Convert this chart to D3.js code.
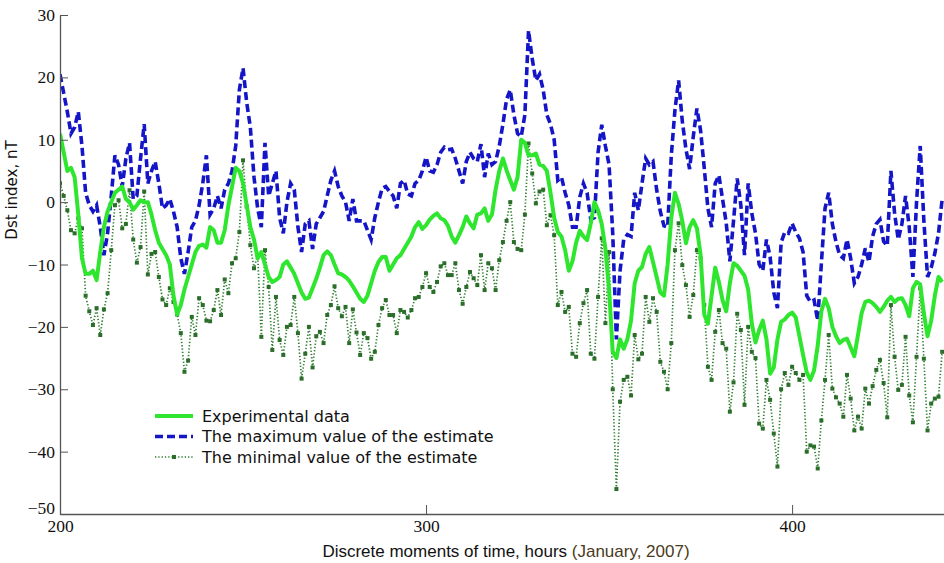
<!DOCTYPE html>
<html lang="en">
<head>
<meta charset="UTF-8">
<title>Dst index</title>
<script src="https://cdnjs.cloudflare.com/ajax/libs/d3/7.8.5/d3.min.js"></script>
<style>
    body { margin: 0; background: #fff; }
    svg { display: block; background: #fff; }
</style>
</head>
<body>
<script>

    // hourly values, t = 200 .. 441
    let startHour = 200

    let experimental = [
        11, 8, 5, 5.5, 4, -2, -9, -11.5, -11.5, -11,
        -12.5, -8, -4, -1.5, 0, 1.5, 2, 2.5, 0.5, 0,
        -1.2, -0.5, 0.3, 0, 0, -2, -4.5, -6.5, -7.5, -8.5,
        -10, -15, -18, -16.5, -14, -12, -10, -8, -7, -6.8,
        -7.3, -4, -4.5, -6.5, -6.5, -4.5, -0.5, 2.5, 5.5, 5,
        3, -0.5, -4, -6, -9, -8, -10, -12, -12.8, -12.5,
        -12, -10, -9.5, -10.5, -11.5, -13, -14.5, -15.5, -15.3, -13.8,
        -12.3, -10.5, -8.5, -7.9, -8.5, -10, -11.4, -11.6, -12, -12.6,
        -13.5, -14.5, -15.5, -16, -15, -13, -11, -9.6, -8.8, -8.8,
        -11, -10, -9, -8.5, -7.5, -6.5, -5.5, -4, -3.2, -4.3,
        -3.7, -2.8, -2.2, -1.8, -2.6, -2.9, -3.8, -5.5, -6.5, -5.3,
        -4, -2.3, -3.4, -4.2, -2, -1.8, -1, -3, -2, 2,
        5, 7, 5.1, 3.5, 2, 4, 10, 9.5, 7.5, 7.5,
        7.8, 6, 5.8, 5, 1.5, -2.5, -4.8, -5.5, -7.7, -11,
        -9.5, -6.5, -4.6, -5.5, -6.1, -3.4, 0, -1.3, -3.5, -7.5,
        -14, -24, -25, -22, -23.5, -22, -19, -13, -11, -10.4,
        -8.3, -7.2, -9.6, -12, -14.5, -15, -10, -2.5, 1.5, -0.3,
        -3, -6.6, -4, -2.9, -4.2, -8.5, -18, -19.5, -15, -10.5,
        -12.8, -15.7, -17.5, -13, -9.8, -10.2, -11, -11.8, -14, -19.5,
        -22.5, -20.5, -19, -22, -27.5, -26.5, -22, -19.2, -18.8, -18.1,
        -17.7, -18.5, -21.5, -24.5, -27.3, -28.5, -27, -23, -17.5, -15.5,
        -17, -20, -21.5, -22.6, -22.1, -21.9, -23.3, -24.7, -21.3, -17.8,
        -16, -15.8, -16.2, -16.8, -17.6, -16.8, -15.8, -15.2, -16, -15.5,
        -15.4, -16.5, -18.3, -13.8, -12.8, -13.2, -17.8, -21.5, -19, -15,
        -12, -12.8
    ]

    let estimateMax = [
        20.5, 17.5, 14.5, 11, 12, 14.5, 9, 1.5, -0.5, -1.5,
        -0.5, -4, -8.5, -5, 1, 7.5, 6, 2.5, 7, 9.5,
        0.5, 1, 7, 12.5, 3, 5, 6.5, 3, -1, -0.5,
        0.5, -1.5, -4, -9, -11.5, -8, -4, -3, -0.5, 3,
        7.5, -2, -1, 1, -1, 2, 3, 5, 9, 18,
        21.5, 16, 12, 4, -1, -4, 9.5, 1, 3, 5,
        -2.5, -5, 0, 3, 2, -4, -8, -3.5, -3, -7.5,
        -3.5, -2.5, -1.5, 1, 3.5, 5, 2.5, 1, 0, -3,
        0.5, -3, -3, -3, -4.5, -6, -2.5, 0, 2.2, 2.5,
        1.7, 1, -1, 3, 3.5, 1.3, 1, 3, 3.5, 5,
        7.2, 5, 4.8, 6, 8, 8.8, 8.4, 8.5, 7, 5,
        3, 6.5, 8, 7, 6.5, 9.3, 4, 7.8, 6, 6.5,
        9, 12.5, 16.5, 18, 14, 11, 10.5, 14, 27.5, 23,
        19.5, 20.5, 18, 14, 12.5, 10, 3.5, 4, 1.5, -0.5,
        -4, -4, 0.8, 3, 1.5, -2.8, -2.5, 8, 12.4, 9,
        6, -5, -22, -11, -6, -5.2, -5.5, 1.5, -1.3, 3,
        7, 6, 6.5, 2, -1.5, -3.8, -4, 7.5, 14.8, 19.5,
        13, 8.5, 5.3, 10.5, 15, 11.5, 5.5, -1, -4, 3,
        4.3, 0.5, -3.3, -9.5, -3, 3.8, -0.5, -8.5, 3, -1.8,
        -5, -10, -11, -6, -8.8, -14.5, -17, -6.5, -4.8, -5,
        -3.4, -4.8, -5.8, -8, -15, -16, -15.7, -19, -9.8, -1,
        1.5, -3.5, -6.4, -8.5, -9, -6, -9, -13, -12, -10,
        -7.4, -9.6, -5.5, -3.5, -2.8, -6.3, -7, 5, -1.8, -6,
        -3.5, 1, -4, -12, 0, 9, -3, -12, -10.5, -8.2,
        -5, 0.5
    ]

    let estimateMin = [
        3, 1, -1.3, -4.5, -5, -2.6, -4.2, -15, -17.5, -19.7,
        -17, -21.3, -17.2, -14.6, -7.7, -0.5, 0.3, -4.2, -3.5, 1.9,
        -6, -9.7, -7.2, 1.7, -11.6, -8.3, -8, -12, -15.6, -16.5,
        -13.8, -16, -18, -21, -27.2, -25.4, -18.4, -21.3, -15.4, -16.5,
        -19, -19.1, -17.3, -14.1, -18.1, -12.4, -14.6, -9.8, -9, -4.8,
        6.7, -0.7, -6.9, -10.6, -8.5, -21.6, -7.7, -13.6, -23.7, -15.2,
        -22.1, -24.5, -20, -19.7, -15.2, -21, -28.3, -24.3, -20, -26.5,
        -21.5, -20.8, -22.6, -18.1, -16.5, -13.5, -17, -18.3, -16.8, -22.6,
        -17.2, -20.9, -24.5, -21, -21.8, -25.1, -24, -19.7, -17, -15.7,
        -18.1, -18.1, -21, -17.3, -17.6, -18.5, -17.3, -15.4, -15.2, -13.6,
        -11.4, -13.6, -14.4, -12.8, -10.3, -9.8, -11.7, -11.7, -9.8, -14.1,
        -16.3, -13.6, -11.2, -12.2, -13.3, -8.5, -14.1, -9.8, -10.6, -14.1,
        -9.3, -6.4, -3, 0, -6.4, -7.5, -7.7, -2, 9.4, 4.6,
        -0.2, 1.7, 2, -3.7, -2.1, -5.3, -16.5, -14.4, -17.6, -16.8,
        -24.3, -24.8, -19.4, -16.2, -14.1, -24.3, -25.1, -15.2, -5.8, -19.4,
        -8, -30, -46, -32, -28.5, -28, -31, -21.3, -25.2, -24.3,
        -15.2, -19.2, -15.4, -17.6, -25.6, -27.2, -30, -22.6, -7.7, -3.4,
        -10.1, -13.3, -18.4, -14.9, -7.7, -9, -16.5, -26.4, -28.5, -20.8,
        -17.3, -22.6, -23.5, -33.6, -28.9, -17.9, -20.5, -32.5, -20, -24,
        -25, -35.5, -36.3, -28.5, -31.7, -37.1, -42.4, -30, -27.4, -29.3,
        -26.4, -27.4, -28.5, -27.7, -40, -39, -39.2, -42.7, -35, -28.5,
        -21.3, -29.9, -31.3, -32.3, -34.4, -27.7, -31.5, -36.6, -34.4, -36.3,
        -29.9, -32.3, -29.5, -26.9, -25.3, -29, -34.5, -16.5, -24.8, -30.1,
        -29.3, -21.6, -31, -35.3, -24.8, -13.8, -25.1, -36.6, -32.3, -31.5,
        -31.2, -24
    ]

    let xTicks = [200, 300, 400]
    let yTicks = [-50, -40, -30, -20, -10, 0, 10, 20, 30]

    let legendLabels = [
        "Experimental data",
        "The maximum value of the estimate",
        "The minimal value of the estimate"
    ]

    let width = 944
    let height = 563

    let svg = d3.select("body").append("svg")
        .attr("width", width)
        .attr("height", height)

    let x = d3.scaleLinear()
        .domain([200, 441.5])
        .range([60, 944])

    let y = d3.scaleLinear()
        .domain([-50, 30])
        .range([514, 15])

    let hour = (d, i) => x(startHour + i)

    svg.append("clipPath").attr("id", "plot")
        .append("rect")
            .attr("x", 60).attr("y", 0)
            .attr("width", width - 60).attr("height", 514)

    let plot = svg.append("g").attr("clip-path", "url(#plot)")

    let line = d3.line().x(hour).y(d => y(d))

    // minimal estimate: dotted dark green with square markers
    plot.append("path")
        .datum(estimateMin)
        .attr("d", line)
        .attr("fill", "none")
        .attr("stroke", "#2f7d2f")
        .attr("stroke-width", 1.7)
        .attr("stroke-dasharray", "1.3,2")

    plot.selectAll("rect.mk")
        .data(estimateMin)
        .enter()
        .append("rect")
            .attr("class", "mk")
            .attr("x", (d, i) => hour(d, i) - 2)
            .attr("y", d => y(d) - 2)
            .attr("width", 4)
            .attr("height", 4)
            .attr("fill", "#2a6e2a")

    // maximum estimate: blue dashed
    plot.append("path")
        .datum(estimateMax)
        .attr("d", line)
        .attr("fill", "none")
        .attr("stroke", "#1515c8")
        .attr("stroke-width", 3.6)
        .attr("stroke-dasharray", "8,4")

    // experimental data: bright green
    plot.append("path")
        .datum(experimental)
        .attr("d", line)
        .attr("fill", "none")
        .attr("stroke", "#2ee62e")
        .attr("stroke-width", 4)
        .attr("stroke-linejoin", "round")

    // axes, ticks pointing inward
    let yAxis = svg.append("g")
        .attr("transform", "translate(60,0)")
        .call(d3.axisLeft(y).tickValues(yTicks).tickSizeInner(-8).tickSizeOuter(0).tickPadding(5))
    let xAxis = svg.append("g")
        .attr("transform", "translate(0,514)")
        .call(d3.axisBottom(x).tickValues(xTicks).tickSizeInner(-9).tickSizeOuter(0).tickPadding(6))

    for (let g of [xAxis, yAxis]) {
        g.select(".domain").attr("stroke", "#555").attr("stroke-width", 1.3)
        g.selectAll(".tick line").attr("stroke", "#555")
        g.selectAll(".tick text")
            .attr("fill", "#111")
            .style("font-family", "'Liberation Serif', 'Times New Roman', serif")
            .style("font-size", "17.5px")
    }
    // lowest y label sits a little higher so it clears the "200" below it
    yAxis.selectAll(".tick text").filter(d => d === -50).attr("dy", "-0.05em")

    svg.append("text")
        .attr("transform", "translate(17,190) rotate(-90)")
        .attr("text-anchor", "middle")
        .style("font-family", "'DejaVu Sans', sans-serif")
        .style("font-size", "15px")
        .attr("fill", "#111")
        .text("Dst index, nT")

    let xlabel = svg.append("text")
        .attr("x", 506)
        .attr("y", 557)
        .attr("text-anchor", "middle")
        .style("font-family", "'Liberation Sans', Arial, sans-serif")
        .style("font-size", "17px")
        .attr("fill", "#111")
    xlabel.append("tspan").text("Discrete moments of time, hours ")
    xlabel.append("tspan").attr("fill", "#4a3a1a").text("(January, 2007)")

    // legend
    let legend = svg.append("g").attr("transform", "translate(155,416)")
    let rows = legend.selectAll("g")
        .data(legendLabels)
        .enter()
        .append("g")
            .attr("transform", (d, i) => `translate(0,${i * 20.5})`)

    rows.append("text")
        .attr("x", 47)
        .attr("y", 5.5)
        .style("font-family", "'DejaVu Sans', sans-serif")
        .style("font-size", "16px")
        .attr("fill", "#111")
        .text(d => d)

    legend.append("line")
        .attr("x1", 0).attr("x2", 38).attr("y1", 0).attr("y2", 0)
        .attr("stroke", "#2ee62e").attr("stroke-width", 4)
    legend.append("line")
        .attr("x1", 0).attr("x2", 38).attr("y1", 20.5).attr("y2", 20.5)
        .attr("stroke", "#1515c8").attr("stroke-width", 3.6).attr("stroke-dasharray", "8,4")
    legend.append("line")
        .attr("x1", 0).attr("x2", 38).attr("y1", 41).attr("y2", 41)
        .attr("stroke", "#2f7d2f").attr("stroke-width", 1.7).attr("stroke-dasharray", "1.3,2")
    legend.append("rect")
        .attr("x", 17).attr("y", 39).attr("width", 4).attr("height", 4)
        .attr("fill", "#2a6e2a")

</script>
</body>
</html>
